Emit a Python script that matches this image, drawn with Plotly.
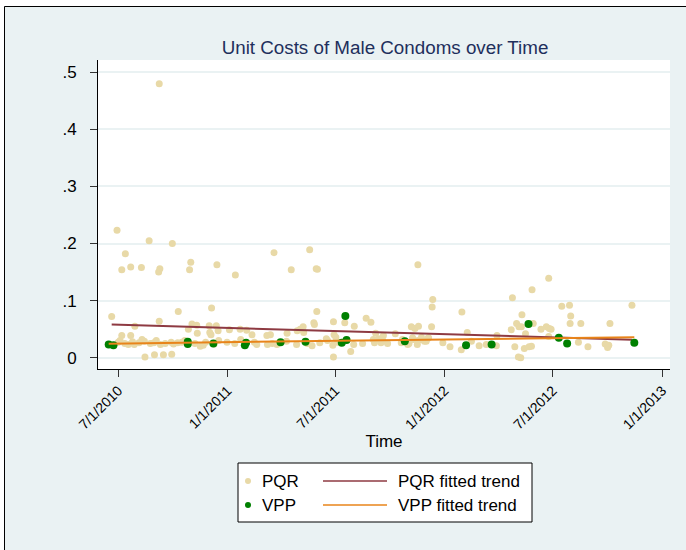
import plotly.graph_objects as go

# ---------------- data ----------------
pqr_dates = [
    "2010-09-08", "2010-06-29", "2010-08-22", "2010-09-30", "2010-07-13", "2010-07-07", "2010-07-22",
    "2010-08-09", "2010-09-07", "2010-09-09", "2010-10-31", "2010-10-29", "2010-12-14", "2011-01-14",
    "2011-03-20", "2011-04-18", "2011-05-19", "2011-05-30", "2011-06-01", "2011-11-17", "2012-06-24",
    "2012-05-27", "2012-04-24", "2011-12-12", "2011-12-11", "2012-01-30", "2012-07-16", "2012-07-29",
    "2012-07-31", "2012-07-30", "2012-08-17", "2012-10-05", "2012-11-11", "2012-05-10",
    "2010-06-20", "2010-10-10", "2010-12-05", "2011-05-31", "2011-06-28", "2011-07-17", "2011-08-02",
    "2010-09-08", "2010-07-29", "2010-07-07", "2010-07-22", "2010-11-02", "2010-11-10", "2010-10-27",
    "2010-12-01", "2010-12-13", "2011-01-04", "2011-01-22", "2011-02-02", "2011-02-11", "2011-03-08",
    "2011-03-14", "2011-04-11", "2011-04-28", "2011-05-03", "2011-05-08", "2011-05-09", "2011-05-26",
    "2011-05-27", "2011-06-16", "2011-06-29", "2011-07-02", "2011-07-27", "2011-06-28", "2011-08-22",
    "2011-08-30", "2011-09-07", "2011-09-20", "2011-10-10", "2011-11-06", "2011-11-12", "2011-11-18",
    "2011-12-10", "2012-02-08", "2012-03-29", "2012-04-22", "2012-05-01", "2012-05-05", "2012-05-09",
    "2012-05-16", "2012-05-29", "2012-06-11", "2012-06-20", "2012-06-25", "2012-06-28", "2012-06-24",
    "2010-11-11", "2010-12-04", "2010-12-02", "2010-12-16",
    "2010-08-15", "2010-08-31", "2010-09-15", "2010-09-29", "2012-05-04", "2012-05-08",
    "2010-07-01", "2010-07-12", "2010-07-18", "2010-07-28", "2010-08-10", "2010-08-14", "2010-08-24",
    "2010-08-30", "2010-09-10", "2010-09-18", "2010-09-28", "2010-10-09", "2010-10-16", "2010-11-07",
    "2010-11-16", "2010-11-21", "2010-12-17", "2010-12-31", "2011-01-13", "2011-01-23", "2011-02-15",
    "2011-02-19", "2011-03-09", "2011-03-17", "2011-03-25", "2011-04-10", "2011-04-27", "2011-05-15",
    "2011-05-23", "2011-06-05", "2011-06-18", "2011-06-27", "2011-07-05", "2011-08-01", "2011-08-16",
    "2011-09-05", "2011-09-19", "2011-09-27", "2011-10-20", "2011-10-31", "2011-11-08", "2011-11-16",
    "2011-11-22", "2011-12-01", "2011-12-05", "2011-12-29", "2012-01-10", "2012-01-29", "2012-02-15",
    "2012-02-28", "2012-03-11", "2012-03-28", "2012-04-28", "2012-05-14", "2012-05-22", "2012-05-26",
    "2012-08-13", "2012-08-29", "2012-09-27", "2012-10-01", "2012-10-03",
    "2011-09-03", "2011-09-12", "2011-09-16", "2011-09-18", "2011-10-22", "2011-11-02", "2011-11-09",
    "2011-11-17", "2011-11-23", "2011-11-28", "2011-12-04",
    "2010-07-04", "2010-07-25", "2010-08-05", "2010-09-03", "2010-10-02", "2010-10-21", "2010-11-25",
    "2010-12-09",
]
pqr_costs = [
    0.480, 0.223, 0.205, 0.200, 0.182, 0.154, 0.159,
    0.158, 0.150, 0.156, 0.167, 0.154, 0.163, 0.145,
    0.184, 0.154, 0.189, 0.156, 0.155, 0.163, 0.139,
    0.119, 0.105, 0.102, 0.089, 0.080, 0.090, 0.092,
    0.073, 0.060, 0.060, 0.060, 0.092, 0.075,
    0.072, 0.081, 0.087, 0.081, 0.063, 0.061, 0.055,
    0.064, 0.055, 0.039, 0.039, 0.059, 0.057, 0.050,
    0.056, 0.056, 0.049, 0.050, 0.048, 0.040, 0.039,
    0.040, 0.043, 0.047, 0.050, 0.054, 0.044, 0.061,
    0.058, 0.033, 0.040, 0.036, 0.011, 0.001, 0.069,
    0.062, 0.043, 0.039, 0.042, 0.054, 0.051, 0.055,
    0.054, 0.044, 0.039, 0.049, 0.060, 0.054, 0.054,
    0.042, 0.060, 0.050, 0.054, 0.051, 0.050, 0.037,
    0.043, 0.040, 0.044, 0.047,
    0.001, 0.005, 0.005, 0.006, 0.001, 0.000,
    0.027, 0.025, 0.023, 0.023, 0.032, 0.029, 0.025,
    0.026, 0.023, 0.025, 0.027, 0.026, 0.027, 0.025,
    0.020, 0.022, 0.030, 0.027, 0.025, 0.032, 0.027,
    0.023, 0.023, 0.025, 0.023, 0.029, 0.023, 0.025,
    0.021, 0.026, 0.030, 0.022, 0.027, 0.023, 0.025,
    0.026, 0.029, 0.025, 0.026, 0.023, 0.035, 0.023,
    0.032, 0.029, 0.035, 0.026, 0.019, 0.014, 0.029,
    0.021, 0.023, 0.021, 0.019, 0.016, 0.019, 0.020,
    0.027, 0.019, 0.024, 0.018, 0.022,
    0.032, 0.033, 0.026, 0.032, 0.032, 0.025, 0.032,
    0.030, 0.036, 0.029, 0.034,
    0.030, 0.028, 0.026, 0.030, 0.024, 0.030, 0.027,
    0.024,
]

vpp_dates = [
    "2010-06-15", "2010-06-23", "2010-10-26", "2010-10-26", "2010-12-08", "2011-01-30", "2011-02-01",
    "2011-03-31", "2011-05-12", "2011-07-12", "2011-07-18", "2011-07-20", "2011-10-26", "2012-02-06",
    "2012-03-20", "2012-05-21", "2012-07-11", "2012-07-25", "2012-11-15",
]
vpp_costs = [
    0.023, 0.022, 0.028, 0.024, 0.025, 0.022, 0.026,
    0.027, 0.028, 0.026, 0.073, 0.031, 0.029, 0.022,
    0.023, 0.059, 0.035, 0.025, 0.026,
]

pqr_trend_dates = ["2010-06-20", "2012-11-11"]
pqr_trend_costs = [0.0580, 0.0316]
vpp_trend_dates = ["2010-06-15", "2012-11-15"]
vpp_trend_costs = [0.0246, 0.0360]

x_tick_vals = ["2010-07-01", "2011-01-01", "2011-07-01", "2012-01-01", "2012-07-01", "2013-01-01"]
x_tick_text = ["7/1/2010", "1/1/2011", "7/1/2011", "1/1/2012", "7/1/2012", "1/1/2013"]
y_tick_vals = [0, 0.1, 0.2, 0.3, 0.4, 0.5]
y_tick_text = ["0", ".1", ".2", ".3", ".4", ".5"]

legend_labels = ["PQR", "VPP", "PQR fitted trend", "VPP fitted trend"]

# ---------------- style ----------------
FONT = "Liberation Sans, Arial, sans-serif"
BG = "#EAF2F3"
C_PQR = "#E8D9A7"
C_VPP = "#008000"
C_PQR_FIT = "#8E3A42"
C_VPP_FIT = "#E8841A"

W, H = 686, 550
L, R, T, B = 98, 16, 60, 181
PW, PH = W - L - R, H - T - B


def px_x(px):
    return (px - L) / PW


def px_y(py):
    return (H - B - py) / PH


fig = go.Figure()
fig.add_trace(go.Scatter(x=pqr_dates, y=pqr_costs, mode="markers", name="PQR",
                         marker=dict(color=C_PQR, size=7, line=dict(width=0)), showlegend=False))
fig.add_trace(go.Scatter(x=pqr_trend_dates, y=pqr_trend_costs, mode="lines", name="PQR fitted trend",
                         line=dict(color=C_PQR_FIT, width=2), showlegend=False))
fig.add_trace(go.Scatter(x=vpp_dates, y=vpp_costs, mode="markers", name="VPP",
                         marker=dict(color=C_VPP, size=8, line=dict(width=0)), showlegend=False))
fig.add_trace(go.Scatter(x=vpp_trend_dates, y=vpp_trend_costs, mode="lines", name="VPP fitted trend",
                         line=dict(color=C_VPP_FIT, width=2), showlegend=False))

shapes = []
annotations = []
# white strips outside the frame (top and left) + black frame lines
shapes.append(dict(type="rect", xref="paper", yref="paper", x0=px_x(0), x1=px_x(W), y0=px_y(6), y1=px_y(0),
                   line=dict(width=0), fillcolor="white", layer="above"))
shapes.append(dict(type="rect", xref="paper", yref="paper", x0=px_x(0), x1=px_x(4), y0=px_y(H), y1=px_y(0),
                   line=dict(width=0), fillcolor="white", layer="above"))
shapes.append(dict(type="line", xref="paper", yref="paper", x0=px_x(4.5), x1=px_x(W), y0=px_y(6.5), y1=px_y(6.5),
                   line=dict(color="black", width=1), layer="above"))
shapes.append(dict(type="line", xref="paper", yref="paper", x0=px_x(4.5), x1=px_x(4.5), y0=px_y(H), y1=px_y(6.5),
                   line=dict(color="black", width=1), layer="above"))

# manual legend
lx0, lx1, ly0, ly1 = 238, 532, 463, 522
shapes.append(dict(type="rect", xref="paper", yref="paper", x0=px_x(lx0), x1=px_x(lx1), y0=px_y(ly1), y1=px_y(ly0),
                   line=dict(color="black", width=1), fillcolor="white", layer="above"))
rows = [481, 505]
marker_colors = [C_PQR, C_VPP]
line_colors = [C_PQR_FIT, C_VPP_FIT]
for i, ry in enumerate(rows):
    shapes.append(dict(type="circle", xref="paper", yref="paper",
                       x0=px_x(245), x1=px_x(251), y0=px_y(ry + 3), y1=px_y(ry - 3),
                       line=dict(width=0), fillcolor=marker_colors[i], layer="above"))
    shapes.append(dict(type="line", xref="paper", yref="paper",
                       x0=px_x(323), x1=px_x(387), y0=px_y(ry), y1=px_y(ry),
                       line=dict(color=line_colors[i], width=1.5), layer="above"))
    annotations.append(dict(text=legend_labels[i], xref="paper", yref="paper", x=px_x(260), y=px_y(ry),
                            xanchor="left", yanchor="middle", showarrow=False,
                            font=dict(family=FONT, size=17, color="black")))
    annotations.append(dict(text=legend_labels[i + 2], xref="paper", yref="paper", x=px_x(396), y=px_y(ry),
                            xanchor="left", yanchor="middle", showarrow=False,
                            font=dict(family=FONT, size=17, color="black")))

fig.update_layout(
    width=W, height=H, autosize=False,
    margin=dict(l=L, r=R, t=T, b=B, pad=0),
    paper_bgcolor=BG, plot_bgcolor="white",
    title=dict(text="Unit Costs of Male Condoms over Time", x=px_x(385), xref="paper", xanchor="center",
               y=1 - 47 / H, yref="container", yanchor="middle",
               font=dict(family=FONT, size=18.8, color="#1E2F5C")),
    font=dict(family=FONT, color="black"),
    showlegend=False,
    shapes=shapes,
    annotations=annotations,
    xaxis=dict(
        type="date", range=["2010-05-28", "2013-01-14"],
        tickmode="array", tickvals=x_tick_vals, ticktext=x_tick_text, tickangle=-45,
        ticks="outside", ticklen=7, tickwidth=1, tickcolor="#333333",
        tickfont=dict(family=FONT, size=14, color="black"),
        showgrid=False, zeroline=False, showline=True, linecolor="black", linewidth=1,
        title=dict(text="Time", font=dict(family=FONT, size=17, color="black"), standoff=0),
    ),
    yaxis=dict(
        range=[-0.0198, 0.5214],
        tickmode="array", tickvals=y_tick_vals, ticktext=y_tick_text,
        ticks="outside", ticklen=7, tickwidth=1, tickcolor="#333333",
        tickfont=dict(family=FONT, size=17, color="black"), ticklabelstandoff=10,
        showgrid=True, gridcolor=BG, gridwidth=1.5, zeroline=False,
        showline=True, linecolor="black", linewidth=1,
    ),
)

fig.write_html(
    "out.html",
    config={"displayModeBar": False},
    post_script="document.body.style.margin='0';document.body.style.padding='0';"
                "document.documentElement.style.overflow='hidden';",
)
